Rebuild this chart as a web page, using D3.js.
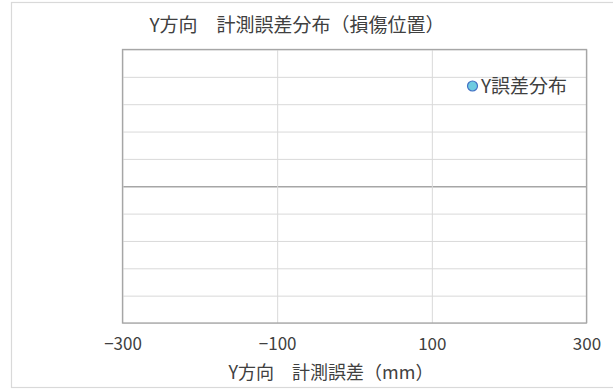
<!DOCTYPE html>
<html>
<head>
<meta charset="utf-8">
<script src="https://cdn.jsdelivr.net/npm/d3@7"></script>
<style>
  html, body { margin: 0; padding: 0; background: #fff; }
  svg { display: block; }
  text { font-family: "Noto Sans CJK JP", "Noto Sans", sans-serif; fill: #404040; }
</style>
</head>
<body>
<svg id="chart" width="613" height="389"></svg>
<script>
// Chart texts
const chartTitle = "Y方向\u3000計測誤差分布（損傷位置）";
const xAxisTitle = "Y方向\u3000計測誤差（mm）";
const seriesName = "Y誤差分布";

// Axis ranges and ticks
const xDomain = [-300, 300];
const xTicks = [-300, -100, 100, 300];
const yDomain = [-5, 5];
const yTicks = [-5, -4, -3, -2, -1, 0, 1, 2, 3, 4, 5];

// Series values (measurement error vs. position); no points fall in view
const errorX = [];
const errorY = [];

const svg = d3.select("#chart");
const plot = { left: 122.5, right: 586.5, top: 49.5, bottom: 323 };

// Outer chart frame
svg.append("rect")
  .attr("x", 11.5).attr("y", 2.5)
  .attr("width", 640).attr("height", 385)
  .attr("fill", "#fff")
  .attr("stroke", "#d9d9d9").attr("stroke-width", 1.2);

const x = d3.scaleLinear().domain(xDomain).range([plot.left, plot.right]);
const y = d3.scaleLinear().domain(yDomain).range([plot.bottom, plot.top]);

// Horizontal gridlines
svg.append("g")
  .attr("transform", `translate(${plot.left},0)`)
  .call(d3.axisLeft(y).tickValues(yTicks).tickSize(-(plot.right - plot.left)).tickFormat(""))
  .call(g => g.select(".domain").remove())
  .call(g => g.selectAll("line")
    .attr("stroke", d => d === 0 ? "#a6a6a6" : "#d9d9d9")
    .attr("stroke-width", d => d === 0 ? 1.3 : 1));

// Vertical gridlines and tick labels
svg.append("g")
  .attr("transform", `translate(0,${plot.bottom})`)
  .call(d3.axisBottom(x).tickValues(xTicks).tickSize(-(plot.bottom - plot.top)).tickPadding(16)
    .tickFormat(d => d3.format("d")(d).replace("-", "\u2212")))
  .call(g => g.select(".domain").remove())
  .call(g => g.selectAll("line").attr("stroke", "#d9d9d9"))
  .call(g => g.selectAll("text")
    .style("font-family", "'Noto Sans CJK JP', 'Noto Sans', sans-serif")
    .attr("font-size", 17).attr("fill", "#404040").attr("dy", "0.71em").attr("y", 15));

// Plot area border
svg.append("rect")
  .attr("x", plot.left).attr("y", plot.top)
  .attr("width", plot.right - plot.left).attr("height", plot.bottom - plot.top)
  .attr("fill", "none").attr("stroke", "#a6a6a6").attr("stroke-width", 1.3);

// Data points
svg.append("g")
  .selectAll("circle")
  .data(errorX.map((v, i) => [v, errorY[i]]))
  .join("circle")
  .attr("cx", d => x(d[0])).attr("cy", d => y(d[1]))
  .attr("r", 5)
  .attr("fill", "#6ecbe0").attr("stroke", "#4472c4");

// Title
svg.append("text")
  .attr("x", 297).attr("y", 32)
  .attr("text-anchor", "middle")
  .attr("font-size", 19)
  .text(chartTitle);

// X axis title
svg.append("text")
  .attr("x", 331).attr("y", 379)
  .attr("text-anchor", "middle")
  .attr("font-size", 18)
  .text(xAxisTitle);

// Legend
const legend = svg.append("g").attr("transform", "translate(472.5,86)");
legend.append("circle")
  .attr("r", 5)
  .attr("fill", "#6ecbe0").attr("stroke", "#4472c4").attr("stroke-width", 1.2);
legend.append("text")
  .attr("x", 8.5).attr("y", 6.5)
  .attr("font-size", 19)
  .text(seriesName);
</script>
</body>
</html>
